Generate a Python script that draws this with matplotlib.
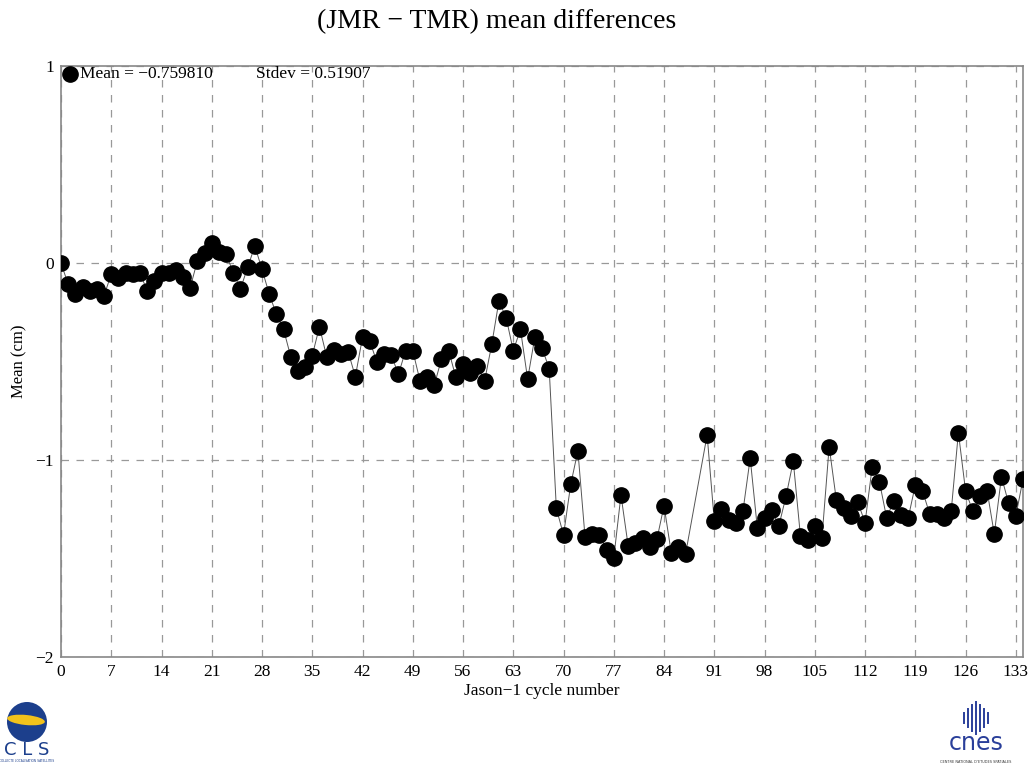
#!/usr/bin/env python3

import matplotlib
matplotlib.use('Agg')
import matplotlib.pyplot as plt
import matplotlib.patches as mpatches

# Jason-1 cycles (88 and 89 have no value)
cycles = list(range(0, 88)) + list(range(90, 135))

mean_cm = [
	0.000, -0.108, -0.157, -0.124, -0.140, -0.132, -0.166, -0.056, -0.074, -0.052,
	-0.056, -0.052, -0.140, -0.091, -0.052, -0.052, -0.037, -0.073, -0.125, 0.012,
	0.052, 0.100, 0.057, 0.044, -0.049, -0.132, -0.022, 0.086, -0.032, -0.157,
	-0.260, -0.337, -0.475, -0.548, -0.530, -0.470, -0.323, -0.475, -0.442, -0.464,
	-0.450, -0.577, -0.377, -0.394, -0.504, -0.462, -0.467, -0.565, -0.445, -0.445,
	-0.597, -0.580, -0.620, -0.487, -0.445, -0.580, -0.514, -0.560, -0.523, -0.600,
	-0.413, -0.193, -0.277, -0.445, -0.337, -0.589, -0.377, -0.431, -0.536, -1.246,
	-1.380, -1.124, -0.953, -1.393, -1.376, -1.379, -1.457, -1.497, -1.178, -1.435,
	-1.423, -1.398, -1.440, -1.403, -1.232, -1.470, -1.440, -1.477,
	-0.873, -1.310, -1.250, -1.305, -1.320, -1.257, -0.991, -1.347, -1.296, -1.254,
	-1.333, -1.183, -1.006, -1.386, -1.406, -1.335, -1.394, -0.932, -1.203, -1.245,
	-1.283, -1.215, -1.318, -1.034, -1.110, -1.293, -1.210, -1.279, -1.296, -1.127,
	-1.156, -1.274, -1.274, -1.296, -1.259, -0.861, -1.157, -1.259, -1.181, -1.156,
	-1.376, -1.085, -1.220, -1.284, -1.098,
]

x_ticks = list(range(0, 134, 7))
y_ticks = [-2, -1, 0, 1]

mean_label = 'Mean = \u22120.759810'
stdev_label = 'Stdev = 0.51907'

plt.rcParams['font.family'] = ['Liberation Serif', 'DejaVu Serif']

fig = plt.figure(figsize=(10.33, 7.67), dpi=100)
ax = fig.add_axes([61 / 1033, 1 - 657 / 767, (1023 - 61) / 1033, (657 - 66) / 767])

ax.plot(cycles, mean_cm, color='#555555', linewidth=0.7, marker='o',
	markersize=11, markerfacecolor='black', markeredgecolor='black', clip_on=True, zorder=3)

ax.set_xlim(0, 134)
ax.set_ylim(-2, 1)
ax.set_xticks(x_ticks)
ax.set_yticks(y_ticks)
ax.set_yticklabels(['\u22122', '\u22121', '0', '1'])
ax.tick_params(axis='both', labelsize=12.5, length=0, pad=5, colors='black')

for x in x_ticks:
	ax.axvline(x, color='#999999', linewidth=0.9, linestyle=(0, (6, 6)), zorder=1)
for y in y_ticks:
	ax.axhline(y, color='#999999', linewidth=0.9, linestyle=(0, (6, 6)), zorder=1)

for sp in ax.spines.values():
	sp.set_color('#888888')
	sp.set_linewidth(1.2)

ax.set_xlabel('Jason\u22121 cycle number', fontsize=12.5, labelpad=2)
ax.set_ylabel('Mean (cm)', fontsize=12, labelpad=6)

fig.text(0.481, 1 - 22 / 767, '(JMR \u2212 TMR) mean differences', ha='center', va='center', fontsize=20)

# legend-like header inside the plot
ax.plot([1.2], [0.96], marker='o', markersize=11, color='black', clip_on=False, zorder=4)
fig.text(80 / 1033, 1 - 74 / 767, mean_label, ha='left', va='center', fontsize=12.5)
fig.text(256 / 1033, 1 - 74 / 767, stdev_label, ha='left', va='center', fontsize=12.5)

# rough logos
cls = mpatches.Ellipse((27 / 1033, 1 - 722 / 767), 40 / 1033, 40 / 767, transform=fig.transFigure,
	facecolor='#1c3f8c', edgecolor='none')
fig.patches.append(cls)
band = mpatches.Ellipse((26 / 1033, 1 - 720 / 767), 38 / 1033, 10 / 767, angle=-8, transform=fig.transFigure,
	facecolor='#f2c21b', edgecolor='none')
fig.patches.append(band)
fig.text(27 / 1033, 1 - 750 / 767, 'C L S', ha='center', va='center', fontsize=13,
	color='#1c3f8c', family='DejaVu Sans')
fig.text(27 / 1033, 1 - 761 / 767, 'COLLECTE LOCALISATION SATELLITES', ha='center', va='center',
	fontsize=2.2, color='#1c3f8c', family='DejaVu Sans')

for i, h in enumerate([10, 18, 26, 32, 26, 18, 10]):
	xx = (964 + i * 4) / 1033
	fig.lines.append(plt.Line2D([xx, xx], [1 - (718 + h / 2) / 767, 1 - (718 - h / 2) / 767],
		transform=fig.transFigure, color='#2a3f9a', linewidth=1.4))
fig.text(976 / 1033, 1 - 743 / 767, 'cnes', ha='center', va='center', fontsize=17,
	color='#2a3f9a', family='DejaVu Sans')
fig.text(976 / 1033, 1 - 762 / 767, 'CENTRE NATIONAL D\'ETUDES SPATIALES', ha='center', va='center',
	fontsize=2.5, color='#333333', family='DejaVu Sans')

fig.savefig('out.png', dpi=100)
